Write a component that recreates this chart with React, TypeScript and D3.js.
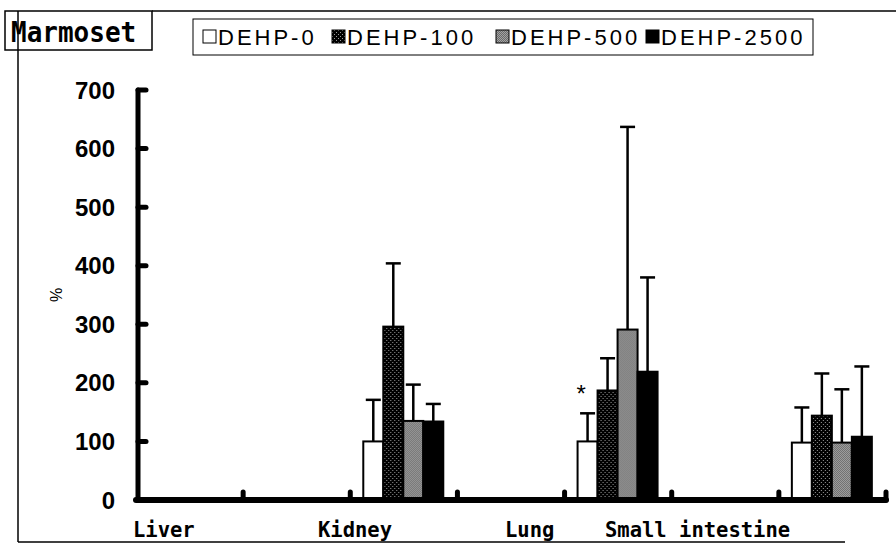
import React from "react";
import * as d3 from "d3";

// organ labels under the axis and the 7 axis slots (bars sit in slots 2, 4, 6)
const xLabels = ["Liver", "Kidney", "Lung", "Small intestine"];
const slotCount = 7;
const barSlots = [2, 4, 6];

const series = ["DEHP-0", "DEHP-100", "DEHP-500", "DEHP-2500"];

// means (%) per bar group
const dehp0 = [100, 100, 98];
const dehp100 = [296, 187, 144];
const dehp500 = [135, 291, 98];
const dehp2500 = [134, 219, 108];

// SD (%) per bar group
const dehp0Sd = [71, 48, 60];
const dehp100Sd = [108, 55, 72];
const dehp500Sd = [62, 346, 91];
const dehp2500Sd = [30, 161, 120];

const yTicks = [0, 100, 200, 300, 400, 500, 600, 700];

const means = [dehp0, dehp100, dehp500, dehp2500];
const sds = [dehp0Sd, dehp100Sd, dehp500Sd, dehp2500Sd];

// layout
const labelLeft = [133, 318, 505, 605];
const legendX = [203, 332, 496, 646];

const fills = ["#ffffff", "url(#dots)", "url(#checker)", "#000000"];

export default function App() {
  const x = d3.scaleBand<number>()
    .domain(d3.range(slotCount))
    .range([136, 886])
    .padding(0);
  const xs = d3.scaleBand<string>().domain(series).range([13, 93]).padding(0);
  const y = d3.scaleLinear().domain([0, 700]).range([500, 90]);

  return (
    <svg width={896} height={545} style={{ position: "absolute", left: 0, top: 0, background: "#fff" }}>
      <defs>
        <pattern id="dots" width={4} height={4} patternUnits="userSpaceOnUse">
          <rect width={4} height={4} fill="#000" />
          <rect x={0} y={0} width={1} height={1} fill="#9a9a9a" />
          <rect x={2} y={2} width={1} height={1} fill="#9a9a9a" />
        </pattern>
        <pattern id="checker" width={2} height={2} patternUnits="userSpaceOnUse">
          <rect width={2} height={2} fill="#6a6a6a" />
          <rect x={0} y={0} width={1} height={1} fill="#a4a4a4" />
          <rect x={1} y={1} width={1} height={1} fill="#a4a4a4" />
        </pattern>
      </defs>

      {/* frame */}
      <line x1={152} y1={11} x2={896} y2={11} stroke="#000" strokeWidth={1.5} />
      <line x1={18} y1={11} x2={18} y2={542} stroke="#000" strokeWidth={1.5} />
      <line x1={18} y1={542} x2={845} y2={542} stroke="#000" strokeWidth={1.5} />

      {/* title box */}
      <rect x={5} y={11} width={147} height={39} fill="none" stroke="#000" strokeWidth={1.5} />
      <text transform="translate(11,42) scale(1,1.12)" fontFamily="DejaVu Sans Mono" fontWeight="bold" fontSize={26}>Marmoset</text>

      {/* legend */}
      <rect x={193} y={19} width={620} height={36} fill="#fff" stroke="#000" strokeWidth={1} />
      {series.map((s, i) => (
        <g key={s}>
          <rect x={legendX[i]} y={30} width={13} height={13} fill={fills[i]} stroke="#000" strokeWidth={1} />
          <text x={legendX[i] + 15} y={45} fontFamily="Liberation Sans" fontSize={22} letterSpacing={3}>{s}</text>
        </g>
      ))}

      {/* y axis */}
      <line x1={138} y1={y(700)} x2={138} y2={y(0)} stroke="#000" strokeWidth={5} strokeLinecap="round" />
      {yTicks.map(t => (
        <g key={t}>
          <line x1={138} y1={y(t)} x2={146} y2={y(t)} stroke="#000" strokeWidth={5} strokeLinecap="round" />
          <text x={115} y={y(t)} dy="0.36em" textAnchor="end" fontFamily="Liberation Sans" fontWeight="bold" fontSize={24}>{t}</text>
        </g>
      ))}
      <text transform={`translate(62,${y(350)}) rotate(-90)`} textAnchor="middle" fontFamily="Liberation Sans" fontSize={16}>%</text>

      {/* bars */}
      {barSlots.map((slot, g) => (
        <g key={slot} transform={`translate(${x(slot)},0)`}>
          {series.map((s, i) => {
            const m = means[i][g];
            const top = y(m + sds[i][g]);
            const cx = xs(s)! + xs.bandwidth() / 2;
            return (
              <g key={s}>
                <line x1={cx} y1={y(m)} x2={cx} y2={top} stroke="#000" strokeWidth={2.5} />
                <line x1={cx - 7.5} y1={top} x2={cx + 7.5} y2={top} stroke="#000" strokeWidth={2.5} />
                <rect x={xs(s)} y={y(m)} width={xs.bandwidth()} height={y(0) - y(m)} fill={fills[i]} stroke="#000" strokeWidth={2} />
              </g>
            );
          })}
        </g>
      ))}
      {/* significance mark on DEHP-0, Lung group */}
      <text x={x(4)! + xs("DEHP-0")! - 1} y={y(168)} fontFamily="Liberation Sans" fontSize={24}>*</text>

      {/* x axis */}
      <line x1={136} y1={y(0)} x2={886} y2={y(0)} stroke="#000" strokeWidth={6} strokeLinecap="round" />
      {d3.range(1, slotCount + 1).map(k => {
        const xt = 136 + k * x.step();
        return <line key={k} x1={xt} y1={y(0)} x2={xt} y2={y(0) - 8} stroke="#000" strokeWidth={5} strokeLinecap="round" />;
      })}
      {xLabels.map((l, i) => (
        <text key={l} x={labelLeft[i]} y={537} fontFamily="DejaVu Sans Mono" fontWeight="bold" fontSize={20.5}>{l}</text>
      ))}
    </svg>
  );
}
